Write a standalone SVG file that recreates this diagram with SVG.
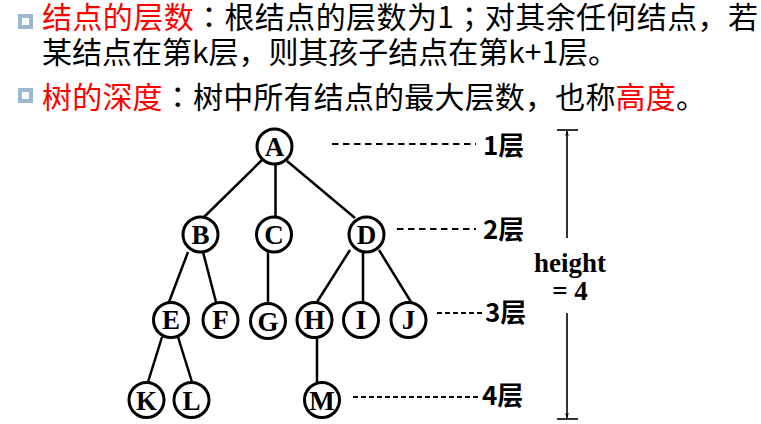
<svg xmlns="http://www.w3.org/2000/svg" width="761" height="424" viewBox="0 0 761 424">
<style>
.hd{font-family:"Noto Sans CJK SC","Microsoft YaHei",sans-serif;font-size:30px;fill:#000}
.red{fill:#ff0000}
.tc{font-family:"Noto Sans CJK TC","Noto Sans CJK SC",sans-serif}
.bul{fill:#fff;stroke:#9db8d2;stroke-width:4}
.nd circle{fill:#fff;stroke:#000;stroke-width:3}
.nd text{font-family:"Liberation Serif","Times New Roman",serif;font-weight:bold;font-size:27px;text-anchor:middle;fill:#000}
.edge{stroke:#000;stroke-width:2.5;fill:none}
.dash{stroke:#000;stroke-width:2;fill:none}
.lv{font-family:"Noto Sans CJK SC","Microsoft YaHei",sans-serif;font-weight:bold;font-size:26px;fill:#000}
.ht{font-family:"Liberation Serif","Times New Roman",serif;font-weight:bold;font-size:27px;text-anchor:middle;fill:#000}
.ar{stroke:#000;stroke-width:1.6;fill:none}
</style>
<defs>
<marker id="ah" viewBox="0 0 10 10" refX="10" refY="5" markerWidth="5" markerHeight="7" orient="auto" markerUnits="userSpaceOnUse">
<path d="M0,1 L10,5 L0,9 L3,5 Z" fill="#000"/>
</marker>
</defs>
<g id="header">
<rect class="bul" x="20" y="16" width="11" height="11"/>
<text class="hd" x="42" y="28" textLength="716"><tspan class="red">结点的层数</tspan><tspan class="tc">：</tspan>根结点的层数为1<tspan class="tc">；</tspan>对其余任何结点，若</text>
<text class="hd" x="42" y="63" textLength="576">某结点在第k层，则其孩子结点在第k+1层。</text>
<rect class="bul" x="20" y="90" width="11" height="11"/>
<text class="hd" x="42" y="108" textLength="664"><tspan class="red">树的深度</tspan><tspan class="tc">：</tspan>树中所有结点的最大层数，也称<tspan class="red">高度</tspan>。</text>
</g>
<g id="connectors">
<line class="edge" x1="262" y1="160" x2="203" y2="218"/>
<line class="edge" x1="275.5" y1="164" x2="275.5" y2="217"/>
<line class="edge" x1="287" y1="161" x2="355" y2="218"/>
<line class="edge" x1="188" y1="252" x2="169" y2="302"/>
<line class="edge" x1="203" y1="252" x2="216" y2="302"/>
<line class="edge" x1="268" y1="252" x2="268" y2="302"/>
<line class="edge" x1="350" y1="250" x2="317" y2="302"/>
<line class="edge" x1="363" y1="252" x2="363" y2="302"/>
<line class="edge" x1="379" y1="250" x2="411" y2="302"/>
<line class="edge" x1="162" y1="337" x2="148" y2="382"/>
<line class="edge" x1="178" y1="337" x2="192" y2="382"/>
<line class="edge" x1="317" y1="337" x2="317" y2="383"/>
<line class="dash" x1="332" y1="144" x2="476" y2="144" stroke-dasharray="6.5 4.5"/>
<line class="dash" x1="397" y1="229" x2="476" y2="229" stroke-dasharray="6.5 4.5"/>
<line class="dash" x1="437" y1="313" x2="484" y2="313" stroke-dasharray="5 3"/>
<line class="dash" x1="353" y1="397" x2="481" y2="397" stroke-dasharray="5 3"/>
<line class="ar" x1="557" y1="130" x2="578" y2="130" stroke-width="2"/>
<line class="ar" x1="557" y1="419" x2="578" y2="419" stroke-width="2"/>
<line class="ar" x1="567" y1="238" x2="567" y2="131" marker-end="url(#ah)"/>
<line class="ar" x1="567" y1="313" x2="567" y2="418" marker-end="url(#ah)"/>
</g>
<g id="nA" class="nd"><circle cx="274.5" cy="146.5" r="17.5"/><text x="274.5" y="156">A</text></g>
<g id="nB" class="nd"><circle cx="200.5" cy="234.5" r="17.5"/><text x="200.5" y="244">B</text></g>
<g id="nC" class="nd"><circle cx="274" cy="234.5" r="17.5"/><text x="274" y="244">C</text></g>
<g id="nD" class="nd"><circle cx="366.5" cy="234.5" r="17.5"/><text x="366.5" y="244">D</text></g>
<g id="nE" class="nd"><circle cx="171" cy="320" r="17.5"/><text x="171" y="329">E</text></g>
<g id="nF" class="nd"><circle cx="220.5" cy="320" r="17.5"/><text x="220.5" y="329">F</text></g>
<g id="nG" class="nd"><circle cx="268" cy="321" r="17.5"/><text x="268" y="331">G</text></g>
<g id="nH" class="nd"><circle cx="314.5" cy="320" r="17.5"/><text x="314.5" y="329">H</text></g>
<g id="nI" class="nd"><circle cx="361" cy="320" r="17.5"/><text x="361" y="329">I</text></g>
<g id="nJ" class="nd"><circle cx="408.5" cy="320" r="17.5"/><text x="408.5" y="329">J</text></g>
<g id="nK" class="nd"><circle cx="146.5" cy="400" r="17.5"/><text x="146.5" y="410">K</text></g>
<g id="nL" class="nd"><circle cx="191.5" cy="400" r="17.5"/><text x="191.5" y="410">L</text></g>
<g id="nM" class="nd"><circle cx="322" cy="400" r="17.5"/><text x="322" y="410">M</text></g>
<g id="levels">
<text class="lv" x="483" y="155">1层</text>
<text class="lv" x="483" y="239">2层</text>
<text class="lv" x="485" y="322">3层</text>
<text class="lv" x="482" y="405">4层</text>
</g>
<g id="height">
<text class="ht" x="570" y="272">height</text>
<text class="ht" x="570" y="300">= 4</text>
</g>
</svg>
